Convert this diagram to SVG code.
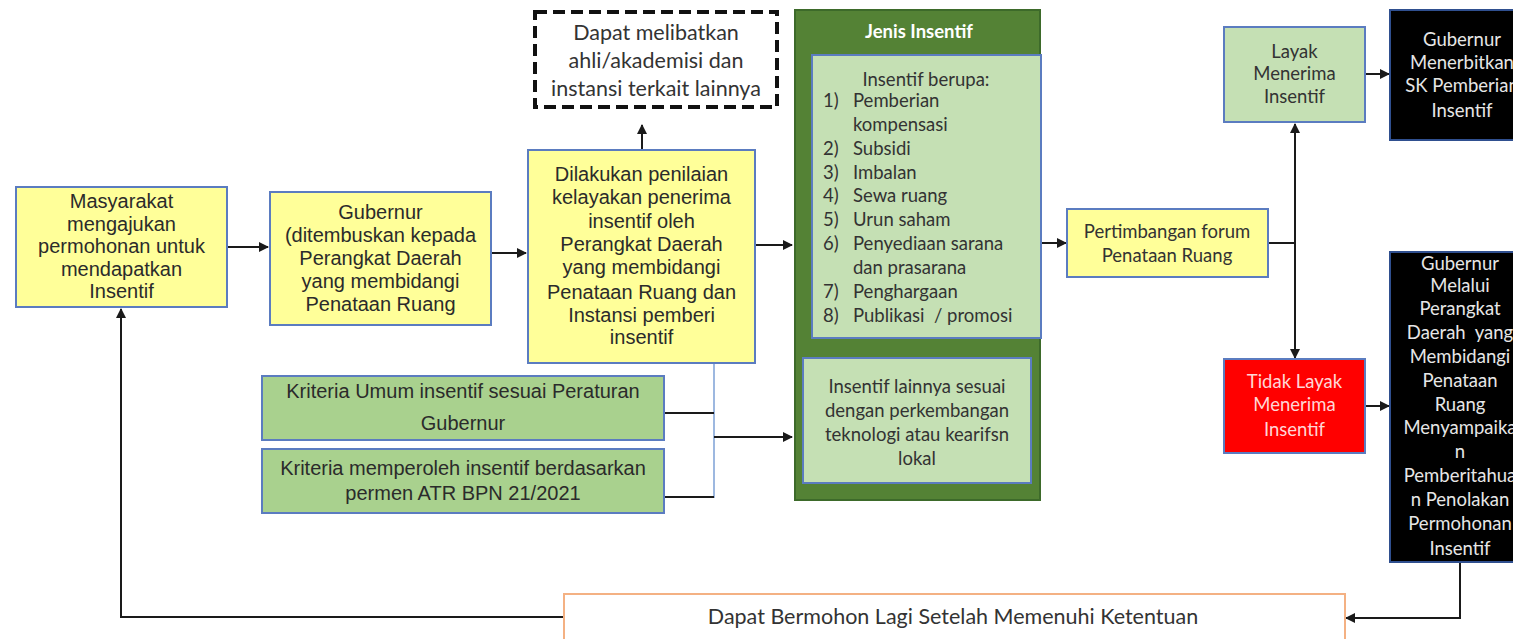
<svg xmlns="http://www.w3.org/2000/svg" width="1513" height="639" viewBox="0 0 1513 639">
<defs>
<marker id="ah" viewBox="0 0 10 10" refX="9" refY="5" markerWidth="5" markerHeight="5" orient="auto-start-reverse" markerUnits="strokeWidth"><path d="M0,0 L10,5 L0,10 z" fill="#1a1a1a"/></marker>
<style>
.ar{font-family:"Liberation Sans",Arial,sans-serif;font-size:20px;fill:#2b2b2b;text-anchor:middle}
.cb{font-family:Lato,"Noto Sans",sans-serif;font-size:18.5px;fill:#333;text-anchor:middle}
.cl{font-family:Lato,"Noto Sans",sans-serif;font-size:18.5px;fill:#333}
.yl{fill:#ffff99;stroke:#5b7cc0;stroke-width:2}
.lg{fill:#c5e0b4;stroke:#5b7cc0;stroke-width:2}
.mg{fill:#a9d18e;stroke:#5b7cc0;stroke-width:2}
.bk{fill:#000;stroke:#2f4f8f;stroke-width:2}
.wt{fill:#e6e6e6}
.ln{fill:none;stroke:#1a1a1a;stroke-width:2}
</style>
</defs>
<rect width="1513" height="639" fill="#fff"/>
<g id="connectors">
<line class="ln" x1="227" y1="247" x2="268" y2="247" marker-end="url(#ah)"/>
<line class="ln" x1="491" y1="253" x2="526" y2="253" marker-end="url(#ah)"/>
<line class="ln" x1="642" y1="150" x2="642" y2="125" marker-end="url(#ah)"/>
<line class="ln" x1="755" y1="245" x2="792" y2="245" marker-end="url(#ah)"/>
<line x1="714" y1="363" x2="714" y2="498" stroke="#9db8e0" stroke-width="2"/>
<line class="ln" x1="664" y1="413" x2="714" y2="413"/>
<line class="ln" x1="664" y1="497" x2="714" y2="497"/>
<line class="ln" x1="714" y1="437" x2="792" y2="437" marker-end="url(#ah)"/>
<line class="ln" x1="1040" y1="243" x2="1066" y2="243" marker-end="url(#ah)"/>
<polyline class="ln" points="1268,243 1295,243"/>
<line class="ln" x1="1295" y1="243" x2="1295" y2="124" marker-end="url(#ah)"/>
<line class="ln" x1="1295" y1="243" x2="1295" y2="358" marker-end="url(#ah)"/>
<line class="ln" x1="1365" y1="74" x2="1389" y2="74" marker-end="url(#ah)"/>
<line class="ln" x1="1365" y1="406" x2="1389" y2="406" marker-end="url(#ah)"/>
<polyline class="ln" points="1460,562 1460,618 1346,618" marker-end="url(#ah)"/>
<polyline class="ln" points="564,617 121,617 121,309" marker-end="url(#ah)"/>
</g>
<g id="n-masyarakat">
<rect class="yl" x="16" y="187" width="211" height="120"/>
<text class="ar" x="121.5" y="208">Masyarakat</text>
<text class="ar" x="121.5" y="231">mengajukan</text>
<text class="ar" x="121.5" y="253">permohonan untuk</text>
<text class="ar" x="121.5" y="276">mendapatkan</text>
<text class="ar" x="121.5" y="298">Insentif</text>
</g>
<g id="n-gubernur">
<rect class="yl" x="270" y="192" width="221" height="133"/>
<text class="ar" x="380.5" y="219">Gubernur</text>
<text class="ar" x="380.5" y="242">(ditembuskan kepada</text>
<text class="ar" x="380.5" y="265">Perangkat Daerah</text>
<text class="ar" x="380.5" y="288">yang membidangi</text>
<text class="ar" x="380.5" y="311">Penataan Ruang</text>
</g>
<g id="n-ahli">
<rect x="535" y="12" width="242" height="95" fill="#fff" stroke="#111" stroke-width="4" stroke-dasharray="12,6"/>
<text class="cb" x="656" y="40" style="font-size:21.5px">Dapat melibatkan</text>
<text class="cb" x="656" y="68" style="font-size:21.5px">ahli/akademisi dan</text>
<text class="cb" x="656" y="96" style="font-size:21.5px">instansi terkait lainnya</text>
</g>
<g id="n-penilaian">
<rect class="yl" x="528" y="150" width="227" height="213"/>
<text class="ar" x="641.5" y="181">Dilakukan penilaian</text>
<text class="ar" x="641.5" y="204">kelayakan penerima</text>
<text class="ar" x="641.5" y="228">insentif oleh</text>
<text class="ar" x="641.5" y="251">Perangkat Daerah</text>
<text class="ar" x="641.5" y="274">yang membidangi</text>
<text class="ar" x="641.5" y="299">Penataan Ruang dan</text>
<text class="ar" x="641.5" y="322">Instansi pemberi</text>
<text class="ar" x="641.5" y="344">insentif</text>
</g>
<g id="n-kriteria-umum">
<rect class="mg" x="262" y="376" width="402" height="64"/>
<text class="ar" x="463" y="398">Kriteria Umum insentif sesuai Peraturan</text>
<text class="ar" x="463" y="430">Gubernur</text>
</g>
<g id="n-kriteria-permen">
<rect class="mg" x="262" y="449" width="402" height="64"/>
<text class="ar" x="463" y="475">Kriteria memperoleh insentif berdasarkan</text>
<text class="ar" x="463" y="500">permen ATR BPN 21/2021</text>
</g>
<g id="n-jenis">
<rect x="795" y="10" width="245" height="490" fill="#548235" stroke="#3d6a2a" stroke-width="2"/>
<text class="cb" x="919" y="38" style="fill:#fff;font-weight:bold;font-size:18.5px">Jenis Insentif</text>
<rect class="lg" x="812" y="55" width="229" height="283"/>
<text class="cb" x="926" y="86">Insentif berupa:</text>
<text class="cl" x="823" y="107">1)</text><text class="cl" x="853" y="107">Pemberian</text>
<text class="cl" x="853" y="131">kompensasi</text>
<text class="cl" x="823" y="155">2)</text><text class="cl" x="853" y="155">Subsidi</text>
<text class="cl" x="823" y="179">3)</text><text class="cl" x="853" y="179">Imbalan</text>
<text class="cl" x="823" y="202">4)</text><text class="cl" x="853" y="202">Sewa ruang</text>
<text class="cl" x="823" y="226">5)</text><text class="cl" x="853" y="226">Urun saham</text>
<text class="cl" x="823" y="250">6)</text><text class="cl" x="853" y="250">Penyediaan sarana</text>
<text class="cl" x="853" y="274">dan prasarana</text>
<text class="cl" x="823" y="298">7)</text><text class="cl" x="853" y="298">Penghargaan</text>
<text class="cl" x="823" y="322">8)</text><text class="cl" x="853" y="322" xml:space="preserve">Publikasi  / promosi</text>
<rect class="lg" x="803" y="358" width="228" height="125"/>
<text class="cb" x="917" y="393">Insentif lainnya sesuai</text>
<text class="cb" x="917" y="417">dengan perkembangan</text>
<text class="cb" x="917" y="441">teknologi atau kearifsn</text>
<text class="cb" x="917" y="465">lokal</text>
</g>
<g id="n-pertimbangan">
<rect class="yl" x="1067" y="209" width="201" height="68"/>
<text class="cb" x="1167" y="238">Pertimbangan forum</text>
<text class="cb" x="1167" y="262">Penataan Ruang</text>
</g>
<g id="n-layak">
<rect class="lg" x="1224" y="27" width="141" height="95"/>
<text class="cb" x="1294.5" y="58">Layak</text>
<text class="cb" x="1294.5" y="80">Menerima</text>
<text class="cb" x="1294.5" y="103">Insentif</text>
</g>
<g id="n-sk">
<rect class="bk" x="1390" y="10" width="130" height="130"/>
<text class="cb wt" x="1462" y="46">Gubernur</text>
<text class="cb wt" x="1462" y="69">Menerbitkan</text>
<text class="cb wt" x="1462" y="92">SK Pemberian</text>
<text class="cb wt" x="1462" y="117">Insentif</text>
</g>
<g id="n-tidak-layak">
<rect x="1224" y="359" width="141" height="94" fill="#ff0000" stroke="#5b7cc0" stroke-width="2"/>
<text class="cb" x="1294.5" y="388" style="fill:#ffd6d6">Tidak Layak</text>
<text class="cb" x="1294.5" y="411" style="fill:#ffd6d6">Menerima</text>
<text class="cb" x="1294.5" y="436" style="fill:#ffd6d6">Insentif</text>
</g>
<g id="n-penolakan">
<rect class="bk" x="1390" y="252" width="130" height="310"/>
<text class="cb wt" x="1460" y="270">Gubernur</text>
<text class="cb wt" x="1460" y="292">Melalui</text>
<text class="cb wt" x="1460" y="315">Perangkat</text>
<text class="cb wt" x="1460" y="339" xml:space="preserve">Daerah  yang</text>
<text class="cb wt" x="1460" y="363">Membidangi</text>
<text class="cb wt" x="1460" y="387">Penataan</text>
<text class="cb wt" x="1460" y="411">Ruang</text>
<text class="cb wt" x="1460" y="434">Menyampaika</text>
<text class="cb wt" x="1460" y="458">n</text>
<text class="cb wt" x="1460" y="482">Pemberitahua</text>
<text class="cb wt" x="1460" y="506">n Penolakan</text>
<text class="cb wt" x="1460" y="530">Permohonan</text>
<text class="cb wt" x="1460" y="555">Insentif</text>
</g>
<g id="n-bermohon">
<rect x="564" y="594" width="781" height="50" fill="#fff" stroke="#f4b183" stroke-width="2"/>
<text class="cb" x="953" y="624" style="font-size:21.5px">Dapat Bermohon Lagi Setelah Memenuhi Ketentuan</text>
</g>
</svg>
